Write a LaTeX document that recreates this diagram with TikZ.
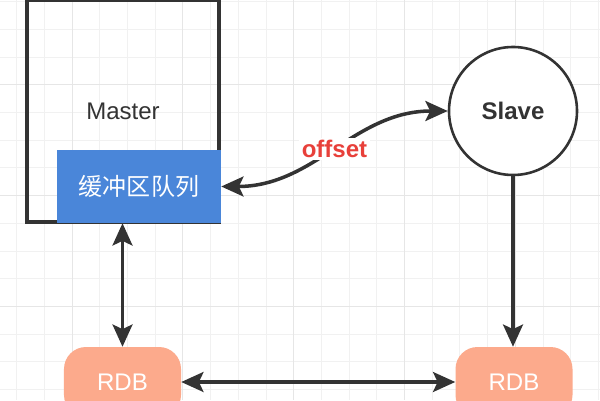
\documentclass[tikz,border=0pt]{standalone}
\usepackage{fontspec}
\setmainfont{Liberation Sans}
\newfontfamily\cjk{Noto Sans CJK SC}
\usepackage{tikz}
\usetikzlibrary{arrows.meta}
\usepackage{xcolor}
\definecolor{ink}{HTML}{333333}
\definecolor{queueblue}{HTML}{4A86D9}
\definecolor{rdbsalmon}{HTML}{FCAA8C}
\definecolor{offsetred}{HTML}{E8403A}
\definecolor{gridminor}{HTML}{F1F1F1}
\definecolor{gridmajor}{HTML}{E6E6E6}

\begin{document}
\begin{tikzpicture}[x=0.03cm, y=-0.03cm,
  font=\fontsize{20.5}{24}\selectfont,
  minor/.style={draw=gridminor, line width=0.8pt},
  major/.style={draw=gridmajor, line width=1pt},
  masterbox/.style={draw=ink, line width=2.6pt, minimum width=5.76cm, minimum height=6.66cm, text=ink},
  queue/.style={fill=queueblue, minimum width=4.92cm, minimum height=2.19cm, text=white,
    font=\cjk\fontsize{20.5}{24}\selectfont},
  slavenode/.style={circle, draw=ink, line width=2.2pt, fill=white, minimum size=3.84cm, text=ink,
    font=\bfseries\fontsize{20.5}{24}\selectfont},
  rdb/.style={fill=rdbsalmon, rounded corners=0.66cm, minimum width=3.51cm, minimum height=2.1cm, text=white},
  link/.style={draw=ink, line width=3pt},
  offsetlabel/.style={fill=white, inner sep=2pt, text=offsetred, font=\bfseries\fontsize{20.5}{24}\selectfont},
  >={Stealth[length=19pt, width=17pt, inset=4pt]}]
\path[use as bounding box, clip] (0,0) rectangle (600,400);
\fill[white] (0,0) rectangle (600,400);
% grid
\foreach \k in {0,...,21} \draw[minor] ({16.7+27.7*\k},0) -- ++(0,400);
\foreach \k in {0,...,14} \draw[minor] (0,{1.7+27.7*\k}) -- ++(600,0);
\foreach \k in {2,6,...,18} \draw[major] ({16.7+27.7*\k},0) -- ++(0,400);
\foreach \k in {3,7,11} \draw[major] (0,{1.7+27.7*\k}) -- ++(600,0);

\node[masterbox] (master) at (123,111) {Master};
\node[queue] (queue) at (139,186.5) {缓冲区队列};
\node[slavenode] (slave) at (513,111) {Slave};
\node[rdb] (rdbm) at (122.5,382) {RDB};
\node[rdb] (rdbs) at (514,382) {RDB};

\draw[link, <->] (queue.east) to[out=0, in=180] node[offsetlabel] {offset} (slave.west);
\draw[link, <->] (rdbm.north |- queue.south) -- (rdbm.north);
\draw[link, ->] (slave.south) -- (slave.south |- rdbs.north);
\draw[link, <->] (rdbm.east) -- (rdbs.west);
\end{tikzpicture}
\end{document}
